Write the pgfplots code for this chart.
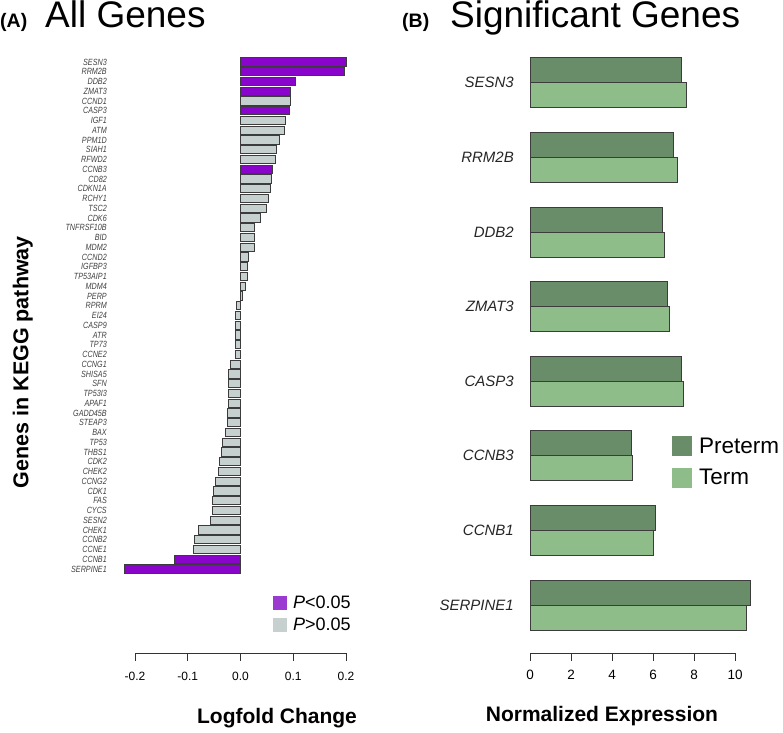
\documentclass[border=0pt]{standalone}
\usepackage{fontspec}
\setmainfont{Liberation Sans}
\newfontfamily\condfont[FakeStretch=0.8]{Liberation Sans}
\usepackage{pgfplots}
\pgfplotsset{compat=1.18}
\definecolor{pur}{HTML}{8A05CC}
\definecolor{purleg}{HTML}{9A3AD0}
\definecolor{gry}{HTML}{C6D0CF}
\definecolor{dkg}{HTML}{698C69}
\definecolor{ltg}{HTML}{8FBD8A}
\definecolor{edge}{HTML}{3C3C3C}
\begin{document}
\begin{tikzpicture}
\path[use as bounding box] (0,0) rectangle (783pt,732pt);
% titles
\node[anchor=base west,inner sep=0pt,font=\bfseries\fontsize{19.5}{22}\selectfont] at (0pt,704pt) {(A)};
\node[anchor=base west,inner sep=0pt,font=\fontsize{37}{40}\selectfont] at (45pt,704pt) {All Genes};
\node[anchor=base west,inner sep=0pt,font=\bfseries\fontsize{19.5}{22}\selectfont] at (402pt,704pt) {(B)};
\node[anchor=base west,inner sep=0pt,font=\fontsize{37}{40}\selectfont] at (450pt,704pt) {Significant Genes};

% ---------- Panel A ----------
\begin{axis}[
  at={(135pt,79pt)}, anchor=south west,
  scale only axis, width=211pt, height=595.9pt,
  xmin=-0.2, xmax=0.2, ymin=-8.62, ymax=52.5,
  clip=false,
  xbar, bar width=8.3pt, bar shift=0pt,
  axis x line*=bottom, axis y line*=left,
  x axis line style={-, line width=0.9pt, color=black!80},
  y axis line style={draw=none},
  xtick={-0.2,-0.1,0,0.1,0.2},
  xticklabels={-0.2,-0.1,0.0,0.1,0.2},
  xtick align=outside, major tick length=8pt,
  xtick style={line width=0.9pt, color=black!80},
  xticklabel style={font=\fontsize{12}{14}\selectfont, inner sep=0pt, yshift=-11pt},
  ytick={0,...,52},
  yticklabels={SERPINE1,CCNB1,CCNE1,CCNB2,CHEK1,SESN2,CYCS,FAS,CDK1,CCNG2,CHEK2,CDK2,THBS1,TP53,BAX,STEAP3,GADD45B,APAF1,TP53I3,SFN,SHISA5,CCNG1,CCNE2,TP73,ATR,CASP9,EI24,RPRM,PERP,MDM4,TP53AIP1,IGFBP3,CCND2,MDM2,BID,TNFRSF10B,CDK6,TSC2,RCHY1,CDKN1A,CD82,CCNB3,RFWD2,SIAH1,PPM1D,ATM,IGF1,CASP3,CCND1,ZMAT3,DDB2,RRM2B,SESN3},
  ytick align=inside, ytick style={draw=none},
  yticklabel style={font=\condfont\itshape\fontsize{9}{10}\selectfont, color=black!75, inner sep=0pt, anchor=east, xshift=-28pt},
  xlabel={Logfold Change},
  xlabel style={font=\bfseries\fontsize{21}{24}\selectfont, at={(axis description cs:0.673,-0.109)}, anchor=center},
  ylabel={Genes in KEGG pathway},
  ylabel style={font=\bfseries\fontsize{21.5}{24}\selectfont, at={(axis description cs:-0.532,0.488)}, anchor=center, rotate=0},
  legend style={draw=none, fill=none, at={(axis description cs:0.654,0.098)}, anchor=north west,
    font=\fontsize{18}{20}\selectfont, row sep=6pt, inner sep=0pt, nodes={inner sep=1pt}},
  legend cell align=left,
]
\addplot[fill=pur, draw=edge, line width=0.9pt,
  legend image code/.code={\fill[purleg] (0pt,-6.5pt) rectangle (13pt,6.5pt); \path (18pt,0pt);}]
  coordinates {(0.201,52) (0.197,51) (0.104,50) (0.094,49) (0.092,47) (0.060,41) (-0.125,1) (-0.220,0)};
\addlegendentry{\textit{P}<0.05}
\addplot[fill=gry, draw=edge, line width=0.9pt,
  legend image code/.code={\fill[gry] (0pt,-6.5pt) rectangle (13pt,6.5pt); \path (18pt,0pt);}]
  coordinates {(0.094,48) (0.0855,46) (0.0836,45) (0.074,44) (0.068,43) (0.066,42)
  (0.058,40) (0.057,39) (0.053,38) (0.050,37) (0.038,36) (0.027,35) (0.026,34) (0.026,33)
  (0.016,32) (0.0125,31) (0.0125,30) (0.010,29) (0.003,28) (-0.007,27) (-0.009,26) (-0.009,25)
  (-0.009,24) (-0.009,23) (-0.010,22) (-0.019,21) (-0.022,20) (-0.023,19) (-0.023,18) (-0.023,17)
  (-0.024,16) (-0.025,15) (-0.028,14) (-0.034,13) (-0.036,12) (-0.039,11) (-0.041,10) (-0.048,9)
  (-0.051,8) (-0.053,7) (-0.054,6) (-0.057,5) (-0.079,4) (-0.088,3) (-0.090,2)};
\addlegendentry{\textit{P}>0.05}
\end{axis}

% ---------- Panel B ----------
\begin{axis}[
  at={(530pt,79pt)}, anchor=south west,
  scale only axis, width=205pt, height=607.5pt,
  xmin=0, xmax=10, ymin=-0.643, ymax=7.5,
  clip=false,
  xbar, bar width=25pt,
  axis x line*=bottom, axis y line*=left,
  x axis line style={-, line width=0.9pt, color=black!80},
  y axis line style={draw=none},
  xtick={0,2,4,6,8,10},
  xticklabels={0,2,4,6,8,10},
  xtick align=outside, major tick length=8pt,
  xtick style={line width=0.9pt, color=black!80},
  xticklabel style={font=\fontsize{13.5}{15}\selectfont, inner sep=0pt, yshift=-9pt},
  ytick={0,...,7},
  yticklabels={SERPINE1,CCNB1,CCNB3,CASP3,ZMAT3,DDB2,RRM2B,SESN3},
  ytick align=inside, ytick style={draw=none},
  yticklabel style={font=\itshape\fontsize{15}{17}\selectfont, color=black!85, inner sep=0pt, anchor=east, xshift=-16pt},
  xlabel={Normalized Expression},
  xlabel style={font=\bfseries\fontsize{21}{24}\selectfont, at={(axis description cs:0.351,-0.1037)}, anchor=center},
  legend style={draw=none, fill=none, at={(axis description cs:0.693,0.3574)}, anchor=north west,
    font=\fontsize{22.5}{25}\selectfont, row sep=12pt, inner sep=0pt, nodes={inner sep=1pt}},
  legend cell align=left,
]
\addplot[fill=dkg, draw=edge, line width=0.9pt, bar shift=12.5pt,
  legend image code/.code={\fill[dkg] (0pt,-9.5pt) rectangle (19pt,9.5pt); \path (25pt,0pt);}]
  coordinates {(10.77,0) (6.13,1) (4.96,2) (7.41,3) (6.70,4) (6.44,5) (6.98,6) (7.41,7)};
\addlegendentry{Preterm}
\addplot[fill=ltg, draw=edge, line width=0.9pt, bar shift=-12.5pt,
  legend image code/.code={\fill[ltg] (0pt,-9.5pt) rectangle (19pt,9.5pt); \path (25pt,0pt);}]
  coordinates {(10.57,0) (6.00,1) (5.01,2) (7.48,3) (6.80,4) (6.54,5) (7.19,6) (7.63,7)};
\addlegendentry{Term}
\end{axis}
\end{tikzpicture}
\end{document}
